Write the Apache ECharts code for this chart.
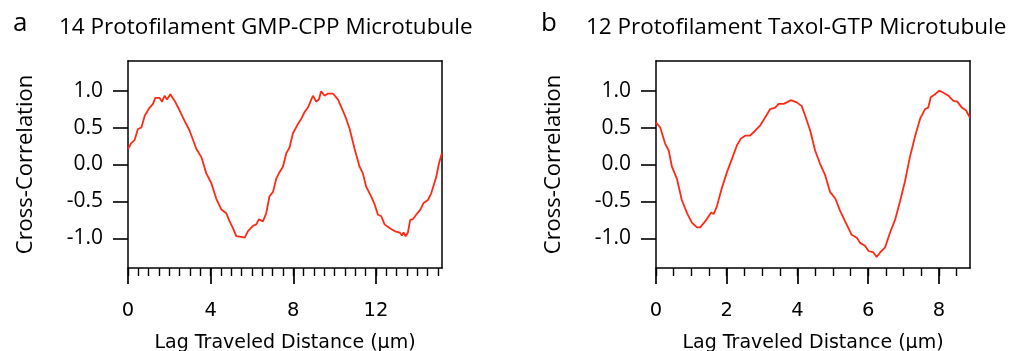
<!DOCTYPE html>
<html>
<head>
<meta charset="utf-8">
<script src="https://cdn.jsdelivr.net/npm/echarts@6/dist/echarts.min.js"></script>
<style>
html,body{margin:0;padding:0;background:#fff;}
#c{width:1012px;height:351px;}
</style>
</head>
<body>
<div id="c"></div>
<script>
// Panel a: 14 protofilament GMP-CPP microtubule
const distA = [0,0.16,0.32,0.48,0.65,0.81,1.05,1.21,1.32,1.53,1.65,1.77,1.89,2.05,2.26,2.5,2.74,2.98,3.31,3.55,3.79,4.03,4.27,4.52,4.76,4.92,5.08,5.24,5.48,5.65,5.81,6.05,6.21,6.34,6.53,6.69,6.85,7.02,7.18,7.34,7.5,7.66,7.82,7.98,8.23,8.39,8.55,8.71,8.95,9.11,9.24,9.35,9.52,9.68,9.92,10.16,10.4,10.56,10.73,10.97,11.21,11.37,11.53,11.77,11.94,12.1,12.26,12.42,12.66,12.9,13.15,13.26,13.34,13.44,13.55,13.66,13.79,13.95,14.15,14.31,14.52,14.68,14.92,15.05,15.19];
const corrA = [0.21,0.29,0.33,0.48,0.50,0.66,0.77,0.82,0.90,0.90,0.85,0.93,0.88,0.95,0.86,0.73,0.59,0.46,0.21,0.10,-0.12,-0.25,-0.46,-0.61,-0.66,-0.77,-0.86,-0.97,-0.98,-0.99,-0.90,-0.83,-0.81,-0.74,-0.77,-0.66,-0.43,-0.37,-0.19,-0.10,-0.03,0.15,0.23,0.42,0.55,0.62,0.71,0.77,0.93,0.85,0.88,0.99,0.93,0.96,0.96,0.88,0.73,0.62,0.48,0.21,-0.03,-0.12,-0.30,-0.43,-0.54,-0.68,-0.70,-0.81,-0.86,-0.90,-0.92,-0.96,-0.92,-0.97,-0.92,-0.75,-0.74,-0.68,-0.61,-0.52,-0.48,-0.39,-0.17,0.01,0.15];
// Panel b: 12 protofilament Taxol-GTP microtubule
const distB = [0,0.12,0.26,0.36,0.45,0.59,0.73,0.88,1.02,1.16,1.25,1.39,1.56,1.63,1.72,1.86,2.01,2.15,2.29,2.4,2.52,2.66,2.81,2.95,3.09,3.23,3.37,3.47,3.61,3.7,3.81,3.98,4.12,4.22,4.36,4.5,4.64,4.78,4.92,5.07,5.21,5.39,5.53,5.68,5.77,5.91,6.01,6.15,6.24,6.34,6.48,6.62,6.76,6.9,7.04,7.18,7.33,7.47,7.61,7.7,7.77,7.89,8.01,8.13,8.27,8.41,8.52,8.65,8.77,8.88];
const corrB = [0.57,0.50,0.28,0.19,-0.03,-0.19,-0.48,-0.66,-0.79,-0.85,-0.85,-0.77,-0.65,-0.67,-0.57,-0.32,-0.10,0.08,0.26,0.35,0.39,0.39,0.46,0.53,0.64,0.75,0.77,0.82,0.82,0.84,0.87,0.84,0.79,0.66,0.46,0.19,0.01,-0.14,-0.37,-0.46,-0.63,-0.81,-0.95,-0.99,-1.06,-1.10,-1.17,-1.19,-1.25,-1.19,-1.12,-0.92,-0.75,-0.50,-0.23,0.10,0.39,0.62,0.75,0.77,0.91,0.95,1.00,0.97,0.93,0.86,0.85,0.77,0.73,0.63];

const yTicks = [-1, -0.5, 0, 0.5, 1];
const majorA = [0, 4, 8, 12];
const majorB = [0, 2, 4, 6, 8];
const minorA = [0,0.5,1,1.5,2,2.5,3,3.5,4,4.5,5,5.5,6,6.5,7,7.5,8,8.5,9,9.5,10,10.5,11,11.5,12,12.5,13,13.5,14,14.5,15];
const minorB = [0,0.5,1,1.5,2,2.5,3,3.5,4,4.5,5,5.5,6,6.5,7,7.5,8,8.5];
const titlesText = ['14 Protofilament GMP-CPP Microtubule', '12 Protofilament Taxol-GTP Microtubule'];
const panelLetters = ['a', 'b'];
const xName = 'Lag Traveled Distance (\u03bcm)';
const yName = 'Cross-Correlation';

const FONT = '"Open Sans", sans-serif';
const XFONT = '"DejaVu Sans", sans-serif';
const black = '#000';
const red = '#ff2a14';

const chart = echarts.init(document.getElementById('c'));

function zipPts(xs, ys){ return xs.map((x,i)=>[x, ys[i]]); }

const grids = [
  {left:128, top:61, width:314, height:207, show:false, containLabel:false, outerBoundsMode:'none'},
  {left:656, top:61, width:314, height:207, show:false, containLabel:false, outerBoundsMode:'none'}
];
const xMax = [15.2, 8.88];
const majors = [majorA, majorB];
const minors = [minorA, minorB];

const xAxes = [], yAxes = [];
for (let g=0; g<2; g++){
  // minor tick axis (carries series)
  xAxes.push({
    type:'value', gridIndex:g, min:0, max:xMax[g], position:'bottom',
    axisLine:{show:true, onZero:false, lineStyle:{color:black, width:1.5}},
    axisTick:{show:true, customValues:minors[g], length:8, inside:false, lineStyle:{color:black, width:1.4}},
    axisLabel:{show:false},
    splitLine:{show:false}
  });
  // major tick axis with labels and name
  xAxes.push({
    type:'value', gridIndex:g, min:0, max:xMax[g], position:'bottom',
    name:xName, nameLocation:'middle', nameGap:66,
    nameTextStyle:{fontFamily:XFONT, fontSize:19, color:black},
    axisLine:{show:false, onZero:false},
    axisTick:{show:true, customValues:majors[g], length:16, lineStyle:{color:black, width:1.7}},
    axisLabel:{show:true, customValues:majors[g], margin:33, fontFamily:XFONT, fontSize:19.5, color:black},
    splitLine:{show:false}
  });
  // top frame line
  xAxes.push({
    type:'value', gridIndex:g, min:0, max:xMax[g], position:'top',
    axisLine:{show:true, onZero:false, lineStyle:{color:black, width:1.5}},
    axisTick:{show:false}, axisLabel:{show:false}, splitLine:{show:false}
  });
  yAxes.push({
    type:'value', gridIndex:g, min:-1.4, max:1.4, position:'left',
    name:yName, nameLocation:'middle', nameGap:91,
    nameTextStyle:{fontFamily:FONT, fontSize:22, color:black},
    axisLine:{show:true, onZero:false, lineStyle:{color:black, width:1.5}},
    axisTick:{show:true, customValues:yTicks, length:15, lineStyle:{color:black, width:1.6}},
    axisLabel:{show:true, customValues:yTicks, margin:25, fontFamily:FONT, fontSize:21, color:black,
      formatter:v=>v.toFixed(1)},
    splitLine:{show:false}
  });
  // right frame line
  yAxes.push({
    type:'value', gridIndex:g, min:-1.4, max:1.4, position:'right',
    axisLine:{show:true, onZero:false, lineStyle:{color:black, width:1.5}},
    axisTick:{show:false}, axisLabel:{show:false}, splitLine:{show:false}
  });
}

const option = {
  animation:false,
  backgroundColor:'#fff',
  title:[
    {text:panelLetters[0], left:8, top:6, textStyle:{fontFamily:FONT, fontSize:26, fontWeight:'normal', color:black}},
    {text:titlesText[0], left:54, top:11, textStyle:{fontFamily:FONT, fontSize:22.5, fontWeight:'normal', color:black}},
    {text:panelLetters[1], left:536, top:6, textStyle:{fontFamily:FONT, fontSize:26, fontWeight:'normal', color:black}},
    {text:titlesText[1], left:581, top:11, textStyle:{fontFamily:FONT, fontSize:22.5, fontWeight:'normal', color:black}}
  ],
  grid:grids,
  xAxis:xAxes,
  yAxis:yAxes,
  series:[
    {type:'line', xAxisIndex:0, yAxisIndex:0, data:zipPts(distA, corrA), showSymbol:false, symbol:'none',
      lineStyle:{color:red, width:1.8}, clip:true},
    {type:'line', xAxisIndex:3, yAxisIndex:2, data:zipPts(distB, corrB), showSymbol:false, symbol:'none',
      lineStyle:{color:red, width:1.8}, clip:true}
  ]
};
chart.setOption(option);
</script>
</body>
</html>
